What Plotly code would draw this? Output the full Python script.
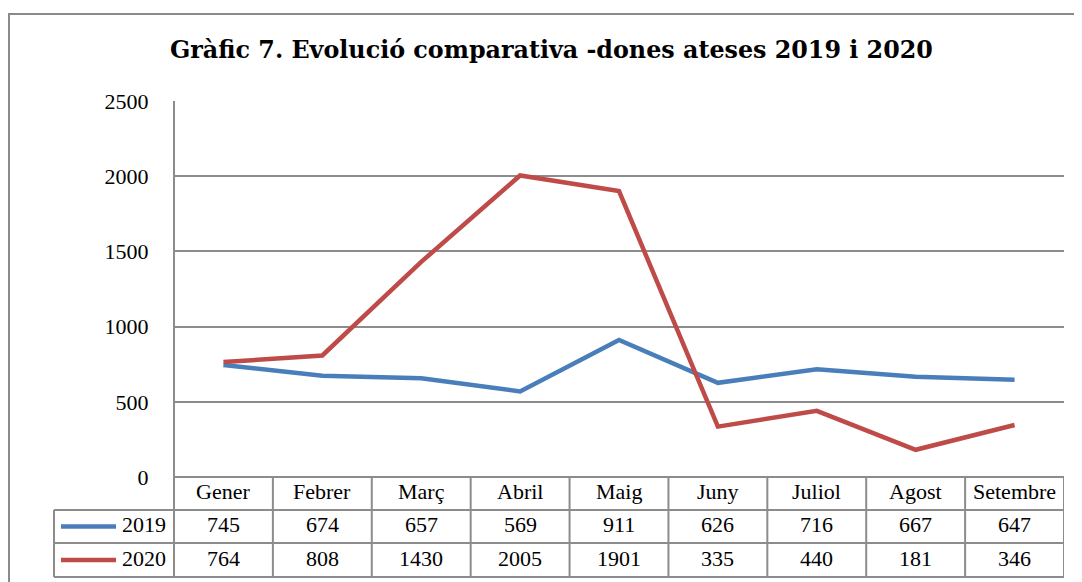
import plotly.graph_objects as go

months = ["Gener", "Febrer", "Març", "Abril", "Maig", "Juny", "Juliol", "Agost", "Setembre"]
series_names = ["2019", "2020"]
values_2019 = [745, 674, 657, 569, 911, 626, 716, 667, 647]
values_2020 = [764, 808, 1430, 2005, 1901, 335, 440, 181, 346]
colors = ["#4a7ebb", "#be4b48"]
title_text = "Gràfic 7. Evolució comparativa -dones ateses 2019 i 2020"

# page has an 8px body margin, so the figure is sized to fit the window
OFF = 8
W, H = 1082 - OFF, 582 - OFF
FONT = "Liberation Serif"
TITLE_FONT = "DejaVu Serif"
GRID = "#8c8c8c"

def px_x(x):
    return (x - OFF) / W

def px_y(y):
    return 1 - (y - OFF) / H

plot_left, plot_right = 174, 1064
plot_top, plot_bottom = 101, 477
row_lines = [477, 510, 543, 577]
legend_left = 54

fig = go.Figure()
xs = list(range(len(months)))
for name, vals, col in zip(series_names, [values_2019, values_2020], colors):
    fig.add_trace(go.Scatter(x=xs, y=vals, mode="lines", name=name,
                             line=dict(color=col, width=4.5), showlegend=False,
                             hoverinfo="x+y"))

shapes = []
shapes.append(dict(type="rect", xref="paper", yref="paper",
                   x0=px_x(9), x1=px_x(1100), y0=px_y(600), y1=px_y(14),
                   line=dict(color="#8a8a8a", width=2), layer="below"))
shapes.append(dict(type="line", xref="paper", yref="paper",
                   x0=px_x(plot_left), x1=px_x(plot_left), y0=px_y(plot_top), y1=px_y(577),
                   line=dict(color=GRID, width=2)))
for i, yl in enumerate(row_lines):
    x0 = plot_left if i == 0 else legend_left
    shapes.append(dict(type="line", xref="paper", yref="paper",
                       x0=px_x(x0), x1=px_x(plot_right), y0=px_y(yl), y1=px_y(yl),
                       line=dict(color=GRID, width=2)))
shapes.append(dict(type="line", xref="paper", yref="paper",
                   x0=px_x(legend_left), x1=px_x(legend_left), y0=px_y(510), y1=px_y(577),
                   line=dict(color=GRID, width=2)))
for i in range(1, len(months) + 1):
    shapes.append(dict(type="line", xref="x", yref="paper",
                       x0=i - 0.5, x1=i - 0.5, y0=px_y(477), y1=px_y(577),
                       line=dict(color=GRID, width=2)))
for k, col in enumerate(colors):
    yc = (row_lines[k + 1] + row_lines[k + 2]) / 2
    shapes.append(dict(type="line", xref="paper", yref="paper",
                       x0=px_x(61), x1=px_x(116), y0=px_y(yc), y1=px_y(yc),
                       line=dict(color=col, width=4.5)))

annotations = []
tf = dict(family=FONT, size=22, color="#000000")
for i, m in enumerate(months):
    annotations.append(dict(x=i, y=px_y((row_lines[0] + row_lines[1]) / 2 - 2), xref="x", yref="paper",
                            text=m, showarrow=False, font=tf, xanchor="center", yanchor="middle"))
for k, vals in enumerate([values_2019, values_2020]):
    yc = (row_lines[k + 1] + row_lines[k + 2]) / 2 - 2
    for i, v in enumerate(vals):
        annotations.append(dict(x=i, y=px_y(yc), xref="x", yref="paper",
                                text=str(v), showarrow=False, font=tf,
                                xanchor="center", yanchor="middle"))
    annotations.append(dict(x=px_x(168), y=px_y(yc), xref="paper", yref="paper",
                            text=series_names[k], showarrow=False, font=tf,
                            xanchor="right", yanchor="middle"))
annotations.append(dict(x=px_x(551), y=px_y(50), xref="paper", yref="paper",
                        text="<b>" + title_text + "</b>", showarrow=False,
                        font=dict(family=TITLE_FONT, size=23.8, color="#000000"),
                        xanchor="center", yanchor="middle"))

fig.update_layout(
    width=W, height=H,
    margin=dict(l=0, r=0, t=0, b=0, pad=0, autoexpand=False),
    paper_bgcolor="white", plot_bgcolor="white",
    xaxis=dict(domain=[px_x(plot_left), px_x(plot_right)], range=[-0.5, len(months) - 0.5],
               showticklabels=False, showgrid=False, zeroline=False, showline=False,
               fixedrange=True, automargin=False),
    yaxis=dict(domain=[px_y(plot_bottom), px_y(plot_top)], range=[0, 2500], dtick=500,
               showgrid=True, gridcolor=GRID, gridwidth=2, zeroline=False, showline=False,
               tickfont=dict(family=FONT, size=22, color="#000000"),
               ticks="outside", ticklen=0, ticklabelstandoff=20, fixedrange=True,
               automargin=False),
    shapes=shapes,
    annotations=annotations,
)

fig.write_html("out.html")
